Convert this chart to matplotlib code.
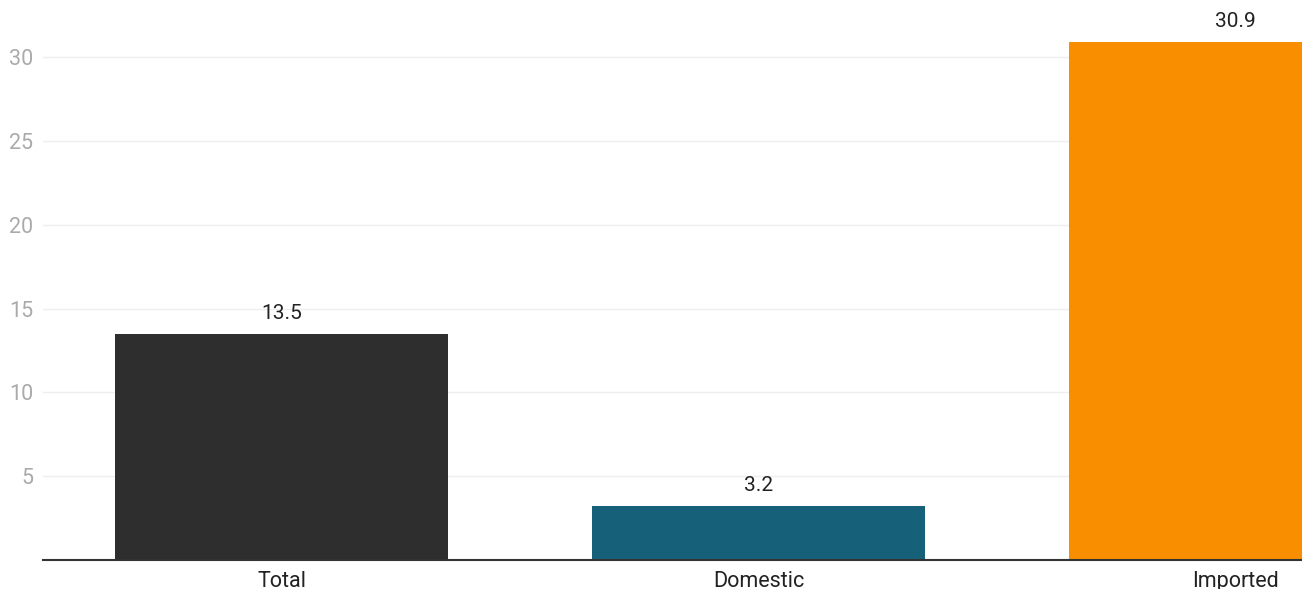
import matplotlib
matplotlib.use("Agg")
import matplotlib.pyplot as plt

categories = ["Total", "Domestic", "Imported"]
values = [13.5, 3.2, 30.9]
colors = ["#2e2e2e", "#17607a", "#f98e00"]
yticks = [5, 10, 15, 20, 25, 30]

plt.rcParams["font.family"] = ["Roboto", "DejaVu Sans"]

fig = plt.figure(figsize=(13.02, 5.89), dpi=100)
# axis runs past the right edge of the figure, like the original crop
ax = fig.add_axes([43 / 1302, 29 / 589, 1431 / 1302, 560 / 589])

x = range(len(categories))
bars = ax.bar(x, values, width=0.7, color=colors, zorder=2)
for b, v in zip(bars, values):
    ax.annotate(f"{v}", (b.get_x() + b.get_width() / 2, v),
                xytext=(0, 8), textcoords="offset points",
                ha="center", va="bottom", fontsize=15, color="#222222")

ax.set_xlim(-0.5, 2.5)
ax.set_ylim(0, 33.4)
ax.set_xticks(list(x))
ax.set_xticklabels(categories, fontsize=15.5, color="#222222")
ax.set_yticks(yticks)
ax.set_yticklabels([str(t) for t in yticks], fontsize=15.5, color="#aaaaaa")
ax.tick_params(axis="both", length=0)
ax.tick_params(axis="x", pad=8)
ax.tick_params(axis="y", pad=7)
ax.grid(axis="y", color="#eeeeee", linewidth=1, zorder=0)
for s in ["top", "right", "left"]:
    ax.spines[s].set_visible(False)
ax.spines["bottom"].set_color("#333333")
ax.spines["bottom"].set_linewidth(1.5)
ax.spines["bottom"].set_zorder(3)

fig.savefig("out.png", dpi=100)
